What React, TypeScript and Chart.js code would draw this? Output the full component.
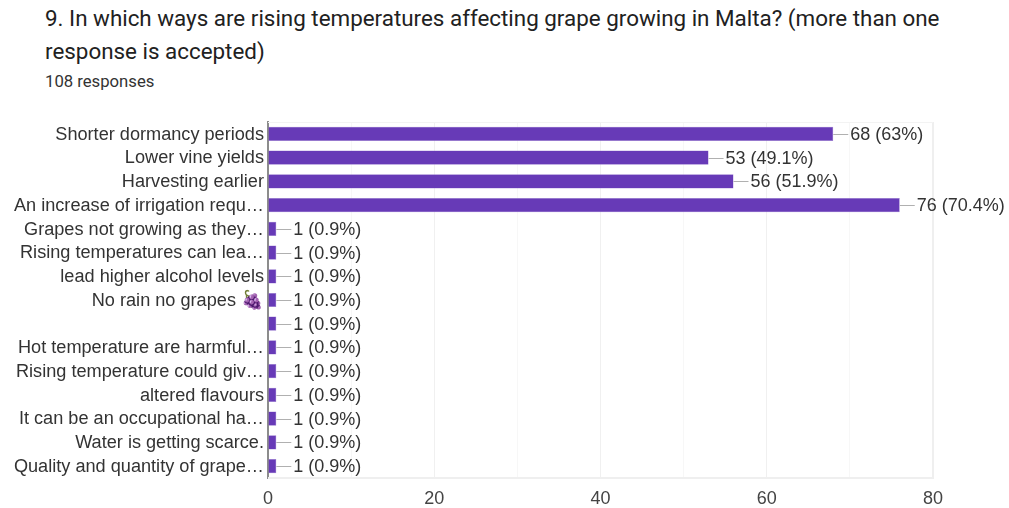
import React, { useEffect, useRef } from "react";
import { Chart, registerables } from "chart.js";

Chart.register(...registerables);

const title = "9. In which ways are rising temperatures affecting grape growing in Malta? (more than one response is accepted)";
const subtitle = "108 responses";

const categories = [
  "Shorter dormancy periods",
  "Lower vine yields",
  "Harvesting earlier",
  "An increase of irrigation requ…",
  "Grapes not growing as they…",
  "Rising temperatures can lea…",
  "lead higher alcohol levels",
  "No rain no grapes 🍇",
  "",
  "Hot temperature are harmful…",
  "Rising temperature could giv…",
  "altered flavours",
  "It can be an occupational ha…",
  "Water is getting scarce.",
  "Quality and quantity of grape…",
];
const counts = [68, 53, 56, 76, 1, 1, 1, 1, 1, 1, 1, 1, 1, 1, 1];
const percents = ["63%", "49.1%", "51.9%", "70.4%", "0.9%", "0.9%", "0.9%", "0.9%", "0.9%", "0.9%", "0.9%", "0.9%", "0.9%", "0.9%", "0.9%"];

const chartFont = "'Liberation Sans', Arial, sans-serif";

// Plot frame behind the bars
const framePlugin = {
  id: "frame",
  beforeDatasetsDraw(chart: any) {
    const { ctx, chartArea: a } = chart;
    ctx.save();
    ctx.strokeStyle = "#efefef";
    ctx.lineWidth = 2;
    ctx.beginPath();
    ctx.moveTo(a.right, a.top);
    ctx.lineTo(a.right, a.bottom);
    ctx.lineTo(a.left, a.bottom);
    ctx.stroke();
    ctx.lineWidth = 1;
    ctx.strokeStyle = "#f3f3f3";
    ctx.beginPath();
    ctx.moveTo(a.left, a.top + 0.5);
    ctx.lineTo(a.right, a.top + 0.5);
    ctx.stroke();
    ctx.restore();
  },
};

// Leader line and "count (percent)" text at the end of every bar
const valueLabelPlugin = {
  id: "valueLabels",
  afterDatasetsDraw(chart: any) {
    const { ctx } = chart;
    const bars = chart.getDatasetMeta(0).data;
    ctx.save();
    ctx.font = `18px ${chartFont}`;
    ctx.textBaseline = "middle";
    ctx.textAlign = "left";
    bars.forEach((bar: any, i: number) => {
      ctx.strokeStyle = "#b0b0b0";
      ctx.lineWidth = 1;
      ctx.beginPath();
      ctx.moveTo(bar.x, Math.round(bar.y) + 0.5);
      ctx.lineTo(bar.x + 15, Math.round(bar.y) + 0.5);
      ctx.stroke();
      ctx.fillStyle = "#333333";
      ctx.fillText(`${counts[i]} (${percents[i]})`, bar.x + 17, bar.y + 1);
    });
    ctx.restore();
  },
};

export default function App() {
  const ref = useRef<HTMLCanvasElement>(null);

  useEffect(() => {
    document.body.style.margin = "0";
    document.body.style.background = "#ffffff";
    const chart = new Chart(ref.current!, {
      type: "bar",
      data: {
        labels: categories,
        datasets: [
          {
            data: counts,
            backgroundColor: "#673ab7",
            borderColor: "#9575cd",
            borderWidth: 0.5,
            barPercentage: 0.6,
            categoryPercentage: 1,
          },
        ],
      },
      options: {
        indexAxis: "y",
        animation: false,
        responsive: false,
        layout: { padding: { top: 122, right: 76, bottom: 0, left: 0 } },
        plugins: { legend: { display: false }, tooltip: { enabled: false } },
        scales: {
          x: {
            min: 0,
            max: 80,
            afterFit: (s: any) => { s.height = 30; },
            ticks: {
              stepSize: 10,
              autoSkip: false,
              maxRotation: 0,
              padding: 10,
              color: "#444444",
              font: { family: chartFont, size: 18 },
              callback: (v: any) => (Number(v) % 20 === 0 ? String(v) : ""),
            },
            grid: {
              drawTicks: false,
              color: (c: any) => (c.tick && c.tick.value % 20 === 0 ? "#f0f0f0" : "#f7f7f7"),
            },
            border: { display: false },
          },
          y: {
            afterFit: (s: any) => { s.width = 268; },
            ticks: {
              autoSkip: false,
              padding: 4,
              labelOffset: 0.7,
              color: "#333333",
              font: { family: chartFont, size: 18.15 },
            },
            grid: { display: false, drawTicks: false },
            border: { display: true, color: "#8c8c8c", width: 2 },
          },
        },
      },
      plugins: [framePlugin, valueLabelPlugin],
    } as any);
    return () => chart.destroy();
  }, []);

  return (
    <div style={{ position: "relative", width: 1009, height: 508, overflow: "hidden", background: "#fff" }}>
      <div
        style={{
          position: "absolute",
          left: 45,
          top: 2,
          width: 930,
          fontFamily: "Roboto, sans-serif",
          fontSize: 22.4,
          lineHeight: "33px",
          color: "#212121",
        }}
      >
        {title}
      </div>
      <div
        style={{
          position: "absolute",
          left: 45,
          top: 72,
          fontFamily: "Roboto, sans-serif",
          fontSize: 16.7,
          lineHeight: "20px",
          color: "#333333",
        }}
      >
        {subtitle}
      </div>
      <canvas ref={ref} width={1009} height={508} style={{ position: "absolute", left: 0, top: 0 }} />
    </div>
  );
}
